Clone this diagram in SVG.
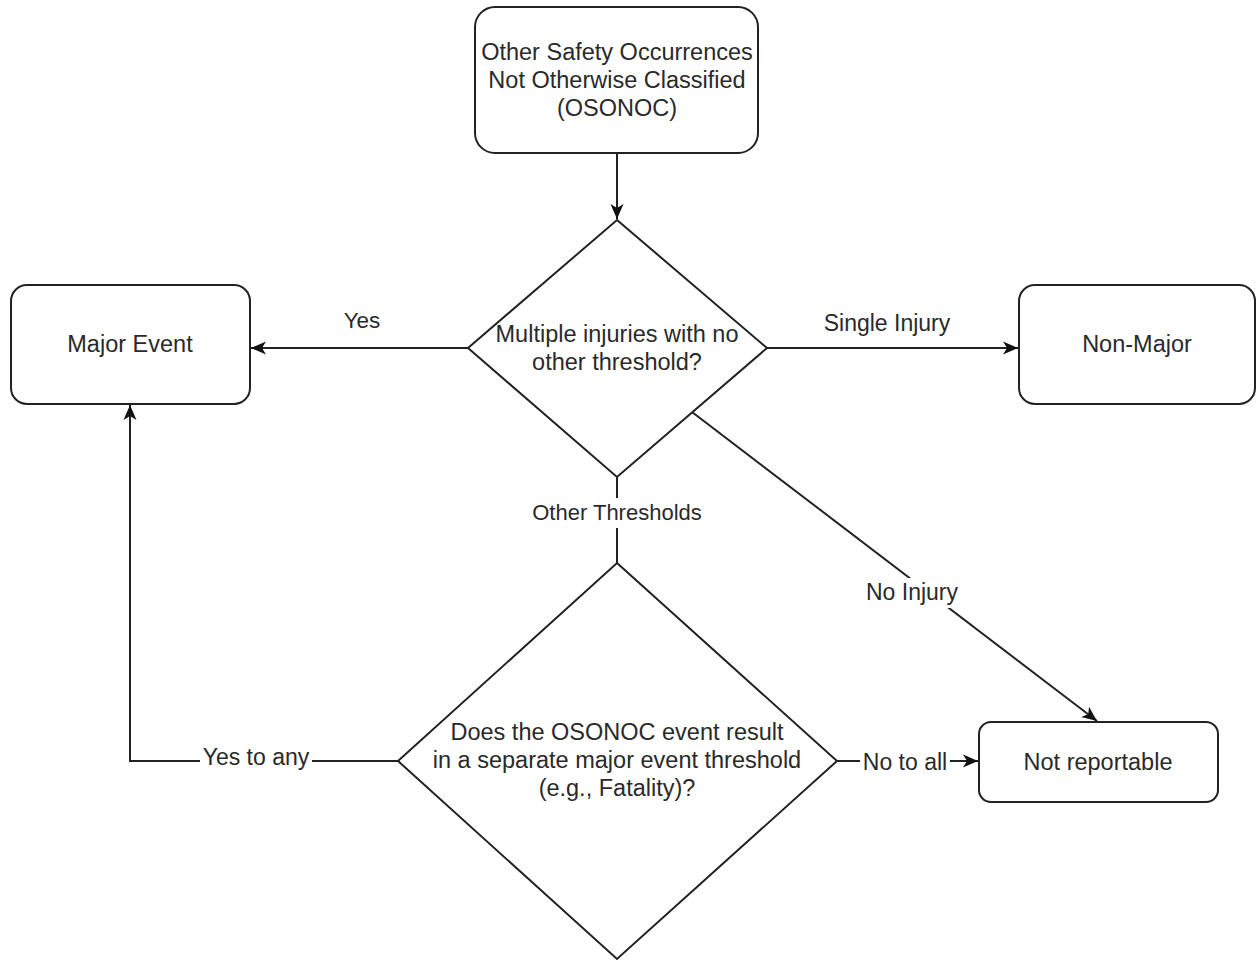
<svg xmlns="http://www.w3.org/2000/svg" width="1256" height="962" viewBox="0 0 1256 962">
<defs>
<style>
.n{fill:#fff;stroke:#222;stroke-width:2}
.e{fill:none;stroke:#222;stroke-width:2}
.t{font-family:"Liberation Sans",Arial,sans-serif;font-size:23.5px;fill:#2a2a2a;text-anchor:middle}
.bg{fill:#fff;stroke:none}
</style>
<marker id="arr" markerUnits="userSpaceOnUse" markerWidth="16" markerHeight="14" refX="15" refY="7" orient="auto" viewBox="0 0 16 14">
<path d="M0,0.5 L15,7 L0,13.5 L4,7 Z" fill="#111" stroke="none"/>
</marker>
</defs>
<rect width="1256" height="962" fill="#fff"/>
<g id="connectors">
<path class="e" d="M617,153 L617,219" marker-end="url(#arr)"/>
<path class="e" d="M468,348 L251,348" marker-end="url(#arr)"/>
<path class="e" d="M767,348 L1018,348" marker-end="url(#arr)"/>
<path class="e" d="M692,412 L1097,721" marker-end="url(#arr)"/>
<path class="e" d="M617,477 L617,563"/>
<path class="e" d="M398,761 L130,761 L130,405" marker-end="url(#arr)"/>
<path class="e" d="M837,761 L978,761" marker-end="url(#arr)"/>
<rect class="bg" x="531" y="498" width="172" height="30"/>
<text class="t" x="617" y="520" style="font-size:22px">Other Thresholds</text>
<text class="t" x="362" y="328" style="font-size:22.5px">Yes</text>
<text class="t" x="887" y="331" style="font-size:23px">Single Injury</text>
<rect class="bg" x="864" y="578" width="98" height="30"/>
<text class="t" x="912" y="600" style="font-size:23px">No Injury</text>
<rect class="bg" x="200" y="745" width="112" height="28"/>
<text class="t" x="256" y="765" style="font-size:23px">Yes to any</text>
<rect class="bg" x="860" y="749" width="90" height="28"/>
<text class="t" x="905" y="770" style="font-size:23px">No to all</text>
</g>
<g id="node-osonoc">
<rect class="n" x="475" y="7" width="283" height="146" rx="20"/>
<text class="t" x="617" y="60">Other Safety Occurrences</text>
<text class="t" x="617" y="88">Not Otherwise Classified</text>
<text class="t" x="617" y="116">(OSONOC)</text>
</g>
<g id="node-decision1">
<polygon class="n" points="617,220 767,348 617,477 468,348"/>
<text class="t" x="617" y="342">Multiple injuries with no</text>
<text class="t" x="617" y="370">other threshold?</text>
</g>
<g id="node-major">
<rect class="n" x="11" y="285" width="239" height="119" rx="16"/>
<text class="t" x="130" y="352">Major Event</text>
</g>
<g id="node-nonmajor">
<rect class="n" x="1019" y="285" width="236" height="119" rx="16"/>
<text class="t" x="1137" y="352">Non-Major</text>
</g>
<g id="node-decision2">
<polygon class="n" points="617,563 837,761 617,959 398,761"/>
<text class="t" x="617" y="740">Does the OSONOC event result</text>
<text class="t" x="617" y="768">in a separate major event threshold</text>
<text class="t" x="617" y="796">(e.g., Fatality)?</text>
</g>
<g id="node-notreportable">
<rect class="n" x="979" y="722" width="239" height="80" rx="12"/>
<text class="t" x="1098" y="770">Not reportable</text>
</g>
</svg>
